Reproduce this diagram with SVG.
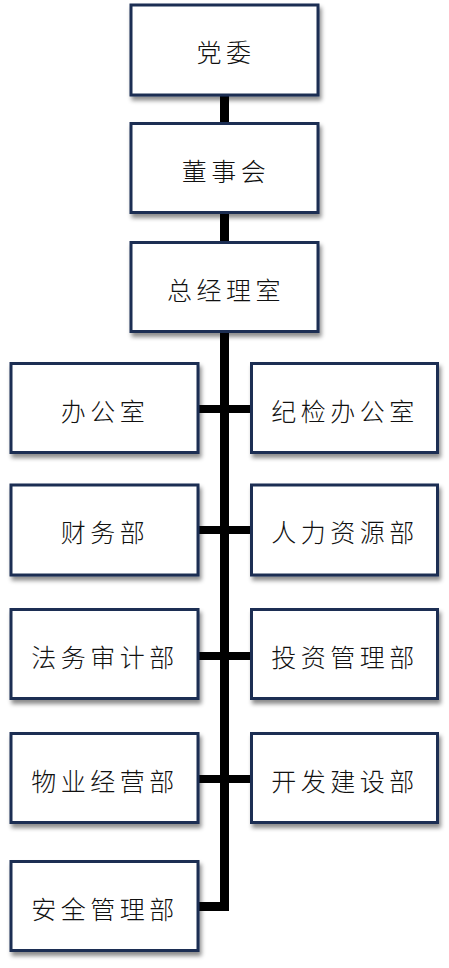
<svg xmlns="http://www.w3.org/2000/svg" width="449" height="968" viewBox="0 0 449 968">
<defs>
<filter id="sh" x="-10%" y="-10%" width="130%" height="130%">
<feDropShadow dx="2" dy="4" stdDeviation="2.2" flood-color="#000" flood-opacity="0.45"/>
</filter>
</defs>
<style>
.box{fill:#fff;stroke:#1b2f52;stroke-width:3;filter:url(#sh)}
.t{font-family:"Noto Sans CJK SC","Noto Sans CJK JP",sans-serif;font-weight:300;font-size:25px;fill:#111;text-anchor:middle;dominant-baseline:central;letter-spacing:4.5px}
.c{fill:#000}
</style>
<g id="connectors">
<rect class="c" x="220" y="95" width="9" height="816"/>
<rect class="c" x="198" y="405" width="54" height="8"/>
<rect class="c" x="198" y="526" width="54" height="8"/>
<rect class="c" x="198" y="652" width="54" height="8"/>
<rect class="c" x="198" y="775" width="54" height="8"/>
<rect class="c" x="198" y="902" width="31" height="9"/>
</g>
<g id="n1"><rect class="box" x="131" y="5" width="187" height="90"/><text class="t" x="226" y="51">党委</text></g>
<g id="n2"><rect class="box" x="131" y="123.5" width="187" height="89"/><text class="t" x="226" y="170">董事会</text></g>
<g id="n3"><rect class="box" x="131" y="242.5" width="187" height="89"/><text class="t" x="226" y="289">总经理室</text></g>
<g id="n4"><rect class="box" x="11" y="363.5" width="187" height="89"/><text class="t" x="105" y="410">办公室</text></g>
<g id="n5"><rect class="box" x="251.5" y="363.5" width="186" height="89"/><text class="t" x="345" y="410">纪检办公室</text></g>
<g id="n6"><rect class="box" x="11" y="485" width="187" height="90"/><text class="t" x="105" y="531">财务部</text></g>
<g id="n7"><rect class="box" x="251.5" y="485" width="186" height="90"/><text class="t" x="345" y="531">人力资源部</text></g>
<g id="n8"><rect class="box" x="11" y="609.5" width="187" height="89"/><text class="t" x="105" y="656">法务审计部</text></g>
<g id="n9"><rect class="box" x="251.5" y="609.5" width="186" height="89"/><text class="t" x="345" y="656">投资管理部</text></g>
<g id="n10"><rect class="box" x="11" y="733.5" width="187" height="89"/><text class="t" x="105" y="780">物业经营部</text></g>
<g id="n11"><rect class="box" x="251.5" y="733.5" width="186" height="89"/><text class="t" x="345" y="780">开发建设部</text></g>
<g id="n12"><rect class="box" x="11" y="861.5" width="187" height="89"/><text class="t" x="105" y="908">安全管理部</text></g>
</svg>
